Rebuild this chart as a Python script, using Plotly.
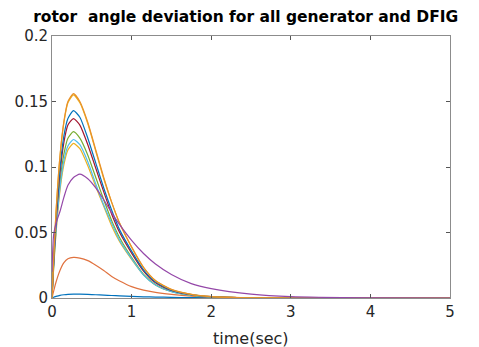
import plotly.graph_objects as go

t = [0, 0.02, 0.05, 0.1, 0.15, 0.2, 0.27, 0.35, 0.45, 0.55, 0.65, 0.75, 0.85,
     1.0, 1.15, 1.3, 1.5, 1.75, 2.0, 2.5, 3.0, 4.0, 5.0]

gen1 = [0, 0.0006, 0.0012, 0.002, 0.0025, 0.0028, 0.003, 0.003, 0.0028, 0.0025, 0.0022, 0.0019, 0.0016,
        0.0012, 0.0009, 0.0007, 0.0005, 0.0003, 0.0002, 0.0001, 0, 0, 0]
gen2 = [0, 0.005, 0.012, 0.021, 0.027, 0.030, 0.031, 0.0305, 0.0285, 0.025, 0.021, 0.0165, 0.013,
        0.0087, 0.006, 0.0043, 0.0028, 0.0015, 0.0008, 0.0002, 0, 0, 0]
gen3 = [0, 0.022, 0.049, 0.082, 0.102, 0.113, 0.118, 0.114, 0.101, 0.085, 0.070, 0.055, 0.043,
        0.0295, 0.0177, 0.010, 0.005, 0.0021, 0.0008, 0.0001, 0, 0, 0]
dfig = [0.02, 0.048, 0.057, 0.066, 0.077, 0.086, 0.092, 0.0945, 0.091, 0.084, 0.075, 0.065, 0.056,
        0.044, 0.034, 0.026, 0.018, 0.011, 0.0072, 0.003, 0.001, 0.0001, 0]
gen5 = [0, 0.024, 0.053, 0.088, 0.110, 0.122, 0.127, 0.122, 0.109, 0.092, 0.075, 0.059, 0.046,
        0.031, 0.018, 0.0102, 0.005, 0.0021, 0.0008, 0.0001, 0, 0, 0]
gen6 = [0, 0.023, 0.051, 0.084, 0.105, 0.116, 0.121, 0.117, 0.104, 0.087, 0.071, 0.057, 0.044,
        0.030, 0.0175, 0.0099, 0.0049, 0.0021, 0.0008, 0.0001, 0, 0, 0]
gen7 = [0, 0.026, 0.057, 0.095, 0.119, 0.132, 0.137, 0.132, 0.117, 0.099, 0.081, 0.064, 0.050,
        0.0343, 0.0206, 0.0116, 0.0058, 0.0025, 0.001, 0.0001, 0, 0, 0]
gen8 = [0, 0.027, 0.060, 0.099, 0.124, 0.137, 0.143, 0.138, 0.122, 0.103, 0.084, 0.067, 0.052,
        0.0358, 0.0215, 0.0122, 0.006, 0.0026, 0.001, 0.0001, 0, 0, 0]
gen9 = [0, 0.029, 0.065, 0.108, 0.135, 0.150, 0.156, 0.150, 0.134, 0.113, 0.092, 0.073, 0.057,
        0.039, 0.0234, 0.0133, 0.0066, 0.0028, 0.0011, 0.0002, 0, 0, 0]
gen10 = [0, 0.029, 0.065, 0.108, 0.134, 0.149, 0.155, 0.149, 0.133, 0.112, 0.091, 0.073, 0.057,
         0.0388, 0.0233, 0.0132, 0.0065, 0.0028, 0.0011, 0.0002, 0, 0, 0]

series = [gen1, gen2, gen3, dfig, gen5, gen6, gen7, gen8, gen9, gen10]
colors = ["#0072BD", "#E0723F", "#EDB120", "#9447A8", "#77AC30", "#4DBEEE",
          "#A2142F", "#0072BD", "#E8902A", "#EDB120"]

xticks = [0, 1, 2, 3, 4, 5]
yticks = [0, 0.05, 0.1, 0.15, 0.2]
yticklabels = ["0", "0.05", "0.1", "0.15", "0.2"]

fig = go.Figure()
order = [0, 1, 2, 4, 5, 6, 7, 9, 8, 3]
for i in order:
    fig.add_trace(go.Scatter(x=t, y=series[i], mode="lines",
                             line=dict(color=colors[i], width=1.2, shape="spline", smoothing=0.6),
                             showlegend=False, hoverinfo="skip"))

font_family = "DejaVu Sans, Arial"
axis_common = dict(showgrid=False, zeroline=False, showline=True, mirror="ticks",
                   linecolor="#8c8c8c", linewidth=1, ticks="inside", ticklen=4, automargin=False,
                   tickcolor="#555555", tickfont=dict(family=font_family, size=15, color="#262626"))

fig.update_layout(
    width=479, height=347,
    margin=dict(l=52, r=29, t=36, b=49),
    paper_bgcolor="white", plot_bgcolor="white",
    title=dict(text="<b>rotor\u00a0 angle deviation for all generator and DFIG</b>",
               x=0.513, xanchor="center", y=0.951, yanchor="middle",
               font=dict(family=font_family, size=15.5, color="#000000")),
    xaxis=dict(range=[0, 5], tickvals=xticks, ticktext=[str(v) for v in xticks], **axis_common),
    yaxis=dict(range=[0, 0.2], tickvals=yticks, ticktext=yticklabels, **axis_common),
    annotations=[dict(text="time(sec)", xref="paper", yref="paper", x=0.5, y=-0.153,
                      xanchor="center", yanchor="middle", showarrow=False,
                      font=dict(family=font_family, size=16, color="#262626"))],
)

fig.write_html("out.html")
